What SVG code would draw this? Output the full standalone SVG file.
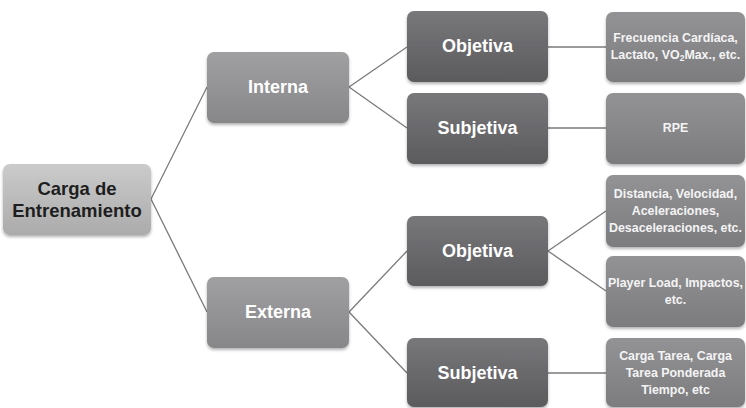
<svg xmlns="http://www.w3.org/2000/svg" width="746" height="408" viewBox="0 0 746 408">
<defs>
<linearGradient id="gRoot" x1="0" y1="0" x2="0" y2="1"><stop offset="0" stop-color="#cbcbcb"/><stop offset="1" stop-color="#ababab"/></linearGradient>
<linearGradient id="gL1" x1="0" y1="0" x2="0" y2="1"><stop offset="0" stop-color="#a0a0a2"/><stop offset="1" stop-color="#87878a"/></linearGradient>
<linearGradient id="gL2" x1="0" y1="0" x2="0" y2="1"><stop offset="0" stop-color="#78787b"/><stop offset="1" stop-color="#5b5b5e"/></linearGradient>
<linearGradient id="gL3" x1="0" y1="0" x2="0" y2="1"><stop offset="0" stop-color="#939396"/><stop offset="1" stop-color="#7c7c7f"/></linearGradient>
<filter id="sh" x="-10%" y="-10%" width="125%" height="130%"><feDropShadow dx="0" dy="2" stdDeviation="1.5" flood-color="#000" flood-opacity="0.3"/></filter>
</defs>
<style>
.box{filter:url(#sh)}
.t{font-family:"Liberation Sans",Arial,sans-serif;font-weight:bold;text-anchor:middle;dominant-baseline:central}
.big{font-size:18px;fill:#ffffff}
.root{font-size:18.5px;fill:#1e1e1e}
.leaf{font-size:12.4px;fill:#f4f4f4}
.c{stroke:#7a7a7a;stroke-width:1.3;fill:none}
</style>
<rect width="746" height="408" fill="#ffffff"/>
<g id="connectors">
<line class="c" x1="151" y1="199" x2="207" y2="87"/>
<line class="c" x1="151" y1="199" x2="207" y2="312"/>
<line class="c" x1="349" y1="87" x2="407" y2="47"/>
<line class="c" x1="349" y1="87" x2="407" y2="128"/>
<line class="c" x1="349" y1="312" x2="407" y2="251"/>
<line class="c" x1="349" y1="312" x2="407" y2="373"/>
<line class="c" x1="548" y1="47" x2="606" y2="47"/>
<line class="c" x1="548" y1="128" x2="606" y2="128"/>
<line class="c" x1="548" y1="251" x2="606" y2="211"/>
<line class="c" x1="548" y1="251" x2="606" y2="291"/>
<line class="c" x1="548" y1="373" x2="606" y2="373"/>
</g>
<g id="root">
<rect class="box" x="3" y="164" width="148" height="71" rx="7" fill="url(#gRoot)"/>
<text class="t root" x="77" y="188">Carga de</text>
<text class="t root" x="77" y="210">Entrenamiento</text>
</g>
<g id="interna">
<rect class="box" x="207" y="52" width="142" height="71" rx="7" fill="url(#gL1)"/>
<text class="t big" x="278" y="87">Interna</text>
</g>
<g id="externa">
<rect class="box" x="207" y="277" width="142" height="71" rx="7" fill="url(#gL1)"/>
<text class="t big" x="278" y="312">Externa</text>
</g>
<g id="int-objetiva">
<rect class="box" x="407" y="11" width="141" height="71" rx="7" fill="url(#gL2)"/>
<text class="t big" x="477.5" y="46">Objetiva</text>
</g>
<g id="int-subjetiva">
<rect class="box" x="407" y="93" width="141" height="71" rx="7" fill="url(#gL2)"/>
<text class="t big" x="477.5" y="128">Subjetiva</text>
</g>
<g id="ext-objetiva">
<rect class="box" x="407" y="216" width="141" height="70" rx="7" fill="url(#gL2)"/>
<text class="t big" x="477.5" y="251">Objetiva</text>
</g>
<g id="ext-subjetiva">
<rect class="box" x="407" y="338" width="141" height="69" rx="7" fill="url(#gL2)"/>
<text class="t big" x="477.5" y="373">Subjetiva</text>
</g>
<g id="leaf-fc">
<rect class="box" x="606" y="12" width="139" height="70" rx="7" fill="url(#gL3)"/>
<text class="t leaf" x="675.5" y="38">Frecuencia Cardíaca,</text>
<text class="t leaf" x="675.5" y="55">Lactato, VO<tspan font-size="8.5" dy="3">2</tspan><tspan dy="-3">Max., etc.</tspan></text>
</g>
<g id="leaf-rpe">
<rect class="box" x="606" y="93" width="139" height="71" rx="7" fill="url(#gL3)"/>
<text class="t leaf" x="675.5" y="128">RPE</text>
</g>
<g id="leaf-dist">
<rect class="box" x="606" y="175" width="139" height="72" rx="7" fill="url(#gL3)"/>
<text class="t leaf" x="675.5" y="194">Distancia, Velocidad,</text>
<text class="t leaf" x="675.5" y="211">Aceleraciones,</text>
<text class="t leaf" x="675.5" y="228">Desaceleraciones, etc.</text>
</g>
<g id="leaf-player">
<rect class="box" x="606" y="256" width="139" height="71" rx="7" fill="url(#gL3)"/>
<text class="t leaf" x="675.5" y="283">Player Load, Impactos,</text>
<text class="t leaf" x="675.5" y="300">etc.</text>
</g>
<g id="leaf-carga">
<rect class="box" x="606" y="338" width="139" height="69" rx="7" fill="url(#gL3)"/>
<text class="t leaf" x="675.5" y="356">Carga Tarea, Carga</text>
<text class="t leaf" x="675.5" y="373">Tarea Ponderada</text>
<text class="t leaf" x="675.5" y="390">Tiempo, etc</text>
</g>
</svg>
